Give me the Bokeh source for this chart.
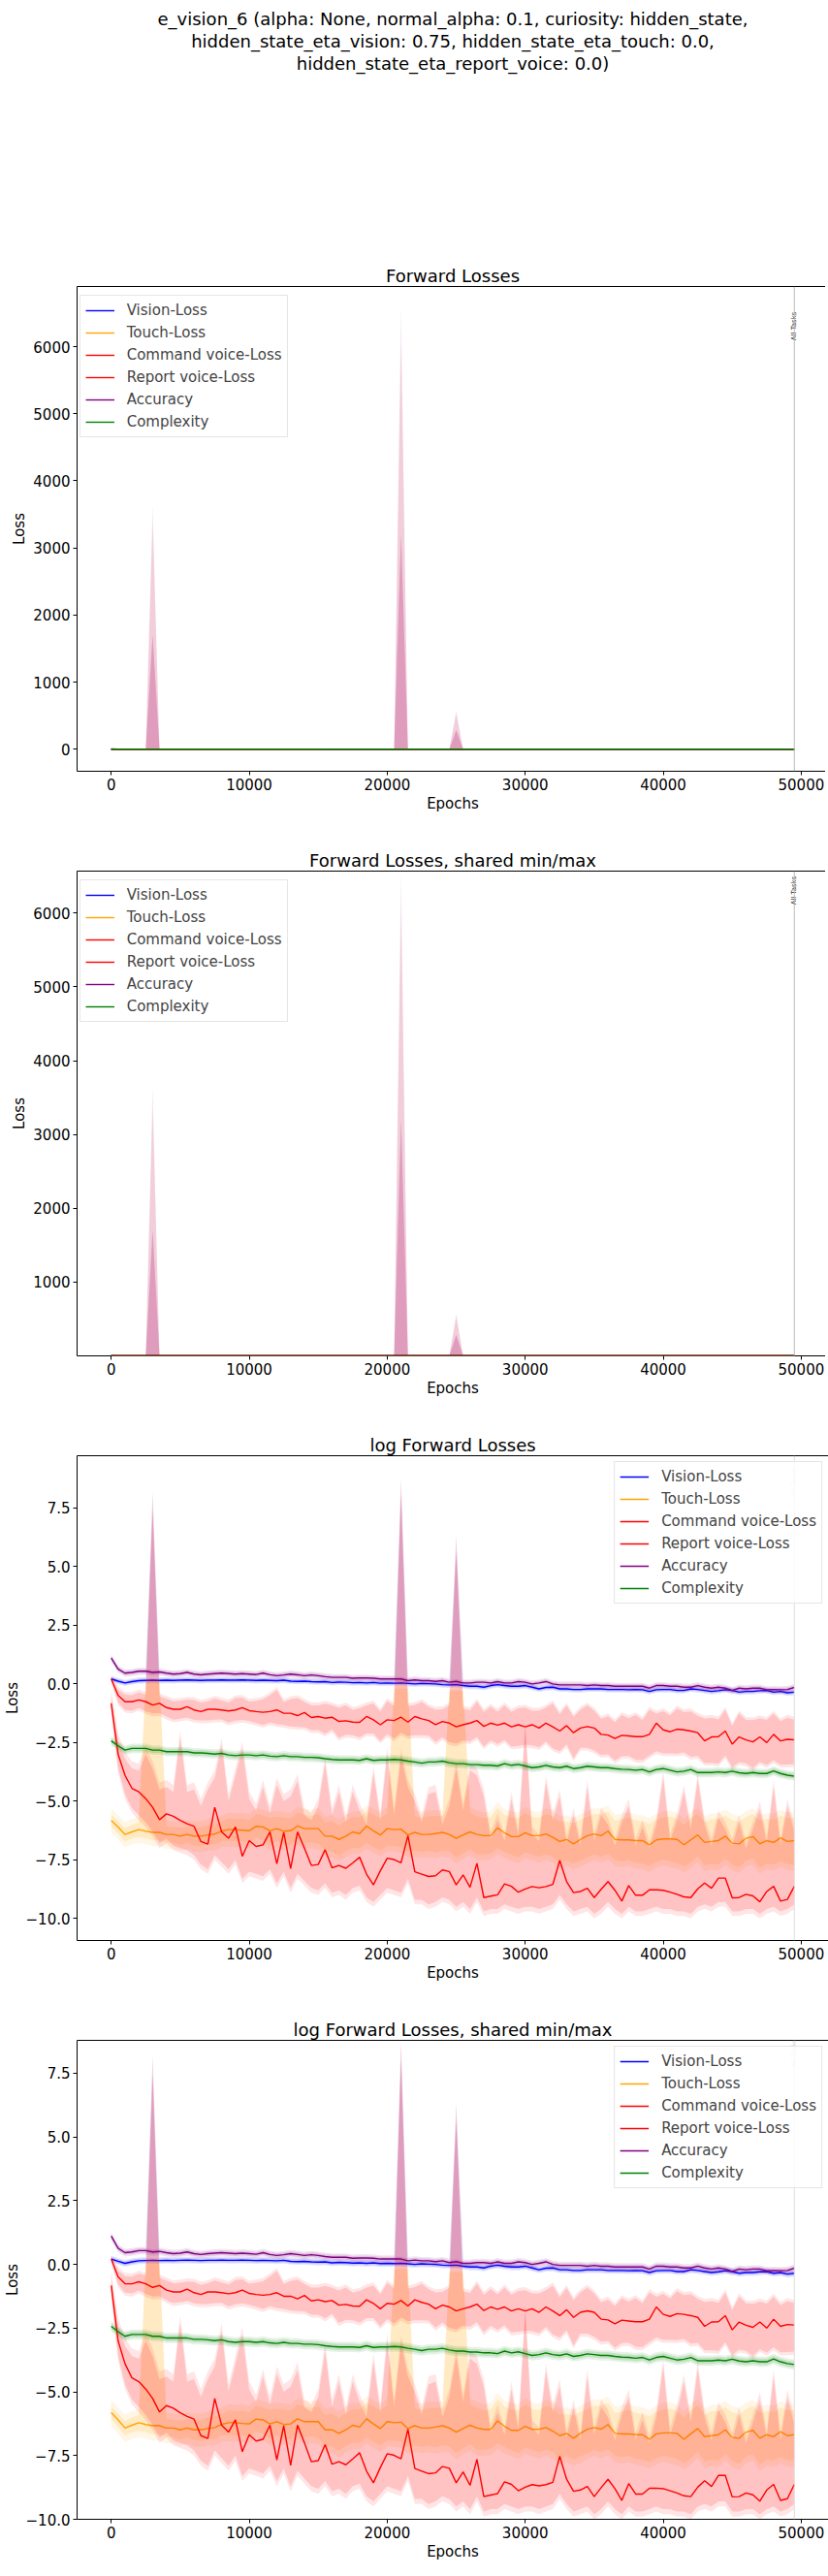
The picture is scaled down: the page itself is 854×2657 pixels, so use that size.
import numpy as np
from bokeh.plotting import figure
from bokeh.models import (Range1d, Span, Legend, LegendItem, Title,
                          SingleIntervalTicker, CustomJSTickFormatter)
from bokeh.layouts import column
from bokeh.embed import file_html
from bokeh.resources import INLINE
from bokeh.core.properties import value

FONT = "DejaVu Sans"

# ---------------- data (natural-log values) ----------------
epochs = list(range(0, 50000, 500))

vision_mean = [0.21, 0.12, 0.04, 0.10, 0.14, 0.15, 0.16, 0.15, 0.16, 0.15,
               0.16, 0.17, 0.16, 0.15, 0.16, 0.16, 0.17, 0.16, 0.16, 0.17,
               0.16, 0.15, 0.16, 0.15, 0.14, 0.16, 0.12, 0.11, 0.12, 0.10,
               0.09, 0.10, 0.06, 0.08, 0.07, 0.05, 0.06, 0.04, 0.06, 0.03,
               0.04, 0.03, 0.04, 0.02, 0.00, 0.02, 0.01, 0.00, -0.03, -0.04,
               -0.03, -0.07, -0.10, -0.10, -0.14, -0.07, -0.03, -0.07, -0.10, -0.10,
               -0.07, -0.14, -0.21, -0.15, -0.14, -0.21, -0.21, -0.24, -0.24, -0.21,
               -0.21, -0.21, -0.24, -0.24, -0.24, -0.25, -0.24, -0.25, -0.32, -0.25,
               -0.24, -0.24, -0.28, -0.28, -0.21, -0.24, -0.28, -0.32, -0.29, -0.25,
               -0.28, -0.35, -0.32, -0.32, -0.29, -0.28, -0.35, -0.32, -0.38, -0.35]

touch_mean = [-5.82, -6.10, -6.42, -6.31, -6.21, -6.28, -6.33, -6.33, -6.42, -6.42,
              -6.49, -6.42, -6.49, -6.49, -6.44, -6.40, -6.28, -6.21, -6.21, -6.24,
              -6.26, -6.07, -6.10, -6.26, -6.17, -6.28, -6.26, -6.06, -6.17, -6.17,
              -6.17, -6.49, -6.49, -6.63, -6.49, -6.31, -6.38, -6.06, -6.26, -6.44,
              -6.17, -6.21, -6.19, -6.44, -6.33, -6.42, -6.42, -6.38, -6.33, -6.42,
              -6.58, -6.44, -6.31, -6.42, -6.47, -6.47, -6.14, -6.35, -6.51, -6.51,
              -6.35, -6.47, -6.47, -6.40, -6.54, -6.72, -6.63, -6.82, -6.63, -6.47,
              -6.40, -6.47, -6.28, -6.63, -6.65, -6.65, -6.68, -6.68, -6.86, -6.65,
              -6.61, -6.61, -6.63, -6.86, -6.65, -6.44, -6.76, -6.72, -6.68, -6.49,
              -6.79, -6.82, -6.58, -6.51, -6.82, -6.68, -6.76, -6.56, -6.72, -6.68]

command_mean = [0.21, -0.49, -0.76, -0.76, -0.68, -0.76, -0.90, -0.83, -1.01, -1.08,
                -1.08, -0.97, -1.11, -1.18, -1.08, -1.08, -1.11, -1.15, -1.11, -1.01,
                -1.14, -1.18, -1.21, -1.18, -1.11, -1.25, -1.25, -1.35, -1.22, -1.43,
                -1.39, -1.46, -1.42, -1.60, -1.57, -1.63, -1.64, -1.39, -1.53, -1.74,
                -1.53, -1.56, -1.42, -1.63, -1.39, -1.49, -1.56, -1.74, -1.60, -1.67,
                -1.83, -1.74, -1.67, -1.56, -1.81, -1.67, -1.76, -1.67, -1.83, -1.74,
                -1.83, -1.74, -1.88, -1.67, -1.83, -2.01, -1.78, -2.08, -1.88, -1.82,
                -1.88, -2.15, -2.18, -2.33, -2.19, -2.22, -2.25, -2.25, -2.15, -1.67,
                -1.96, -2.04, -1.93, -1.96, -2.01, -2.08, -2.43, -2.26, -2.25, -2.01,
                -2.57, -2.26, -2.39, -2.47, -2.26, -2.50, -2.15, -2.43, -2.36, -2.38]

report_mean = [-0.83, -3.00, -3.90, -4.45, -4.60, -4.89, -5.26, -5.79, -5.54, -5.64,
               -5.82, -5.96, -6.07, -6.72, -6.83, -5.26, -6.31, -6.58, -6.10, -7.35,
               -6.68, -6.93, -6.86, -6.31, -7.67, -6.33, -7.88, -6.31, -7.00, -7.74,
               -7.70, -7.07, -7.84, -7.74, -7.86, -7.63, -7.39, -8.11, -8.57, -7.97,
               -7.43, -7.49, -7.63, -6.47, -8.01, -8.11, -8.21, -8.18, -7.93, -8.00,
               -8.57, -8.14, -8.67, -7.65, -9.11, -9.05, -8.99, -8.53, -8.63, -8.88,
               -8.74, -8.64, -8.69, -8.64, -8.55, -7.53, -8.43, -8.90, -8.85, -8.71,
               -9.11, -8.76, -8.43, -8.80, -9.26, -8.60, -9.01, -9.01, -8.78, -8.78,
               -8.80, -8.88, -8.97, -9.08, -9.11, -8.74, -8.49, -8.71, -8.28, -8.28,
               -9.12, -9.11, -8.97, -9.04, -9.29, -8.85, -8.63, -9.26, -9.19, -8.63]

accuracy_mean = [1.11, 0.63, 0.46, 0.49, 0.54, 0.54, 0.49, 0.51, 0.46, 0.42,
                 0.44, 0.49, 0.42, 0.39, 0.42, 0.44, 0.46, 0.44, 0.42, 0.44,
                 0.42, 0.40, 0.46, 0.39, 0.35, 0.38, 0.42, 0.39, 0.35, 0.38,
                 0.35, 0.31, 0.28, 0.28, 0.28, 0.24, 0.25, 0.25, 0.24, 0.21,
                 0.21, 0.21, 0.21, 0.14, 0.17, 0.14, 0.14, 0.11, 0.14, 0.07,
                 0.11, 0.04, 0.04, 0.07, 0.07, 0.04, 0.10, 0.04, 0.04, 0.10,
                 0.07, 0.00, 0.04, 0.10, 0.00, -0.04, -0.04, -0.04, -0.04, -0.07,
                 -0.04, -0.07, -0.07, -0.10, -0.10, -0.10, -0.10, -0.10, -0.18, -0.07,
                 -0.07, -0.10, -0.10, -0.14, -0.14, -0.07, -0.14, -0.18, -0.14, -0.18,
                 -0.28, -0.18, -0.21, -0.18, -0.18, -0.25, -0.24, -0.25, -0.24, -0.15]

complexity_mean = [-2.43, -2.64, -2.82, -2.75, -2.75, -2.75, -2.82, -2.82, -2.89, -2.89,
                   -2.89, -2.89, -2.94, -2.94, -2.96, -2.99, -2.96, -3.03, -3.06, -3.03,
                   -3.03, -3.06, -3.03, -3.08, -3.10, -3.06, -3.10, -3.10, -3.13, -3.13,
                   -3.15, -3.19, -3.22, -3.24, -3.24, -3.24, -3.26, -3.19, -3.26, -3.24,
                   -3.24, -3.22, -3.24, -3.29, -3.33, -3.38, -3.33, -3.33, -3.29, -3.36,
                   -3.40, -3.40, -3.44, -3.44, -3.47, -3.47, -3.50, -3.40, -3.47, -3.43,
                   -3.50, -3.57, -3.54, -3.47, -3.54, -3.57, -3.51, -3.61, -3.57, -3.51,
                   -3.54, -3.57, -3.57, -3.61, -3.64, -3.65, -3.68, -3.65, -3.75, -3.65,
                   -3.61, -3.68, -3.75, -3.72, -3.65, -3.78, -3.78, -3.78, -3.75, -3.78,
                   -3.72, -3.79, -3.82, -3.78, -3.82, -3.82, -3.71, -3.82, -3.89, -3.93]

# std-band widths above / below the mean
command_up = [0.05, 0.25, 0.30, 0.28, 0.32, 0.30, 0.35, 0.30, 0.38, 0.33,
              0.36, 0.30, 0.42, 0.38, 0.34, 0.45, 0.40, 0.36, 0.50, 0.42,
              0.38, 0.46, 0.55, 0.70, 0.85, 0.48, 0.60, 0.75, 0.45, 0.52,
              0.48, 0.62, 0.50, 0.58, 0.66, 0.52, 0.60, 0.48, 0.70, 0.56,
              0.80, 0.62, 0.55, 0.68, 0.50, 0.72, 0.58, 0.64, 0.52, 0.75,
              0.60, 0.68, 0.55, 0.80, 0.62, 0.70, 0.58, 0.76, 0.64, 0.70,
              0.82, 0.60, 0.74, 0.66, 1.00, 0.72, 0.85, 0.68, 0.78, 0.90,
              0.74, 0.66, 0.80, 0.70, 0.86, 0.76, 0.92, 0.72, 1.05, 0.40,
              0.80, 0.70, 0.88, 0.76, 0.84, 0.72, 0.95, 0.82, 0.74, 0.90,
              0.78, 1.00, 0.86, 0.92, 0.80, 0.96, 0.88, 0.84, 0.92, 0.86]
command_dn = [0.05, 0.30, 0.35, 0.38, 0.34, 0.40, 0.36, 0.42, 0.38, 0.44,
              0.40, 0.46, 0.42, 0.38, 0.48, 0.44, 0.40, 0.50, 0.46, 0.52,
              0.44, 0.48, 0.54, 0.46, 0.60, 0.50, 0.56, 0.48, 0.62, 0.54,
              0.58, 0.66, 0.52, 0.70, 0.60, 0.56, 0.64, 0.72, 0.58, 0.68,
              0.62, 0.76, 0.66, 0.60, 0.80, 0.70, 0.64, 0.74, 0.68, 0.82,
              0.72, 0.66, 0.78, 0.70, 0.86, 0.74, 0.80, 0.72, 0.84, 0.90,
              0.76, 0.88, 0.82, 0.78, 0.92, 0.86, 0.80, 1.10, 0.84, 0.90,
              0.96, 0.88, 0.82, 0.94, 0.90, 0.86, 0.98, 1.00, 0.90, 1.20,
              1.00, 0.92, 1.04, 0.96, 1.10, 1.00, 0.94, 1.10, 1.15, 1.04,
              0.98, 1.08, 1.00, 1.12, 1.06, 0.96, 1.10, 1.02, 1.08, 1.04]
touch_up = [0.25, 0.25, 0.28, 0.30, 0.30, 0.30, 0.30, 0.30, 0.35, 0.32,
            0.36, 0.34, 0.40, 0.38, 0.42, 0.45, 0.40, 0.48, 0.44, 0.50,
            0.46, 0.52, 0.48, 0.55, 0.50, 0.58, 0.52, 0.56, 0.60, 0.54,
            0.62, 0.58, 0.65, 0.60, 0.66, 0.62, 0.70, 0.64, 0.68, 0.72,
            0.66, 0.74, 0.70, 0.76, 0.68, 0.72, 0.78, 0.74, 0.70, 0.80,
            0.76, 0.72, 0.82, 0.78, 0.74, 0.80, 0.85, 0.76, 0.82, 0.78,
            0.86, 0.80, 0.76, 0.84, 0.90, 0.82, 0.78, 0.88, 0.84, 0.80,
            0.86, 0.92, 0.84, 0.80, 0.88, 0.94, 0.86, 0.82, 0.90, 0.86,
            0.92, 0.96, 0.88, 0.84, 0.94, 0.90, 0.86, 0.96, 0.92, 0.88,
            0.98, 0.94, 0.90, 0.96, 1.00, 0.92, 0.96, 0.94, 1.00, 0.96]
touch_dn = [0.25, 0.28, 0.30, 0.28, 0.32, 0.30, 0.34, 0.32, 0.36, 0.34,
            0.38, 0.36, 0.40, 0.44, 0.40, 0.46, 0.42, 0.48, 0.50, 0.46,
            0.52, 0.48, 0.54, 0.58, 0.52, 0.56, 0.60, 0.55, 0.62, 0.58,
            0.64, 0.60, 0.66, 0.70, 0.64, 0.68, 0.62, 0.72, 0.70, 0.66,
            0.74, 0.70, 0.76, 0.72, 0.78, 0.74, 0.70, 0.80, 0.76, 0.72,
            0.82, 0.78, 0.74, 0.84, 0.80, 0.76, 0.86, 0.82, 0.78, 0.88,
            0.84, 0.80, 0.90, 0.86, 0.82, 0.92, 0.88, 0.84, 0.90, 0.94,
            0.86, 0.90, 0.96, 0.88, 0.92, 0.86, 0.94, 0.98, 0.90, 0.94,
            0.88, 0.96, 1.00, 0.92, 0.96, 0.90, 0.98, 0.94, 1.02, 0.96,
            0.92, 1.00, 0.96, 0.94, 1.02, 0.98, 0.94, 1.00, 0.96, 1.02]
# report voice std band edges (absolute)
report_hi = [-0.55, -2.4, -3.2, -3.6, -3.7, -3.0, -3.6, -4.5, -4.4, -4.6,
             -2.3, -4.6, -4.5, -5.2, -4.5, -4.0, -2.6, -5.0, -3.9, -2.75,
             -4.9, -5.4, -4.4, -5.5, -4.3, -5.0, -4.8, -4.15, -5.6, -5.8,
             -5.2, -3.4, -5.6, -4.6, -5.9, -4.6, -5.4, -6.0, -3.8, -5.8,
             -3.0, -5.6, -3.1, -4.4, -5.0, -5.9, -4.7, -4.6, -6.0, -5.2,
             -3.6, -5.4, -3.7, -3.9, -4.8, -6.6, -5.8, -6.7, -4.9, -6.5,
             -1.9, -6.4, -6.7, -4.2, -5.8, -4.8, -6.8, -5.6, -6.9, -4.4,
             -6.7, -5.6, -6.0, -6.9, -5.9, -5.2, -6.9, -6.1, -7.0, -6.0,
             -4.0, -6.7, -5.8, -4.6, -6.2, -4.1, -6.0, -6.9, -5.7, -6.2,
             -6.9, -5.9, -7.0, -6.2, -5.3, -6.8, -4.4, -6.9, -5.2, -6.3]
report_lo = [-1.1, -3.6, -4.7, -5.3, -5.6, -5.9, -6.3, -6.8, -6.6, -6.9,
             -7.0, -7.1, -7.3, -7.7, -7.9, -7.3, -7.6, -7.9, -7.5, -8.3,
             -8.0, -8.1, -8.2, -7.9, -8.5, -8.0, -8.7, -8.1, -8.4, -8.7,
             -8.8, -8.5, -8.9, -8.8, -9.0, -8.7, -8.6, -9.1, -9.3, -9.0,
             -8.7, -8.8, -8.9, -8.3, -9.2, -9.2, -9.4, -9.3, -9.1, -9.2,
             -9.5, -9.3, -9.6, -9.1, -9.7, -9.6, -9.6, -9.4, -9.5, -9.6,
             -9.5, -9.5, -9.6, -9.5, -9.4, -9.0, -9.4, -9.7, -9.6, -9.5,
             -9.8, -9.6, -9.3, -9.6, -9.8, -9.5, -9.7, -9.7, -9.6, -9.5,
             -9.6, -9.6, -9.7, -9.7, -9.8, -9.5, -9.4, -9.5, -9.3, -9.3,
             -9.7, -9.7, -9.6, -9.6, -9.8, -9.6, -9.5, -9.7, -9.6, -9.4]

vision_sd = 0.08
accuracy_sd = 0.09
complexity_sd = 0.12

# outlier epochs (index into epochs) where the run max / std explode
spike_idx = [6, 42, 50]
spike_outer = [8.20, 8.79, 6.35]
spike_inner = [7.44, 8.07, 5.65]
touch_col_idx = [5, 6, 7, 41, 42, 43, 49, 50, 51]
touch_col_top = [0.20, 0.20, 0.20, -0.10, -0.10, -0.10, -0.20, -0.20, -0.20]

names = ["Vision-Loss", "Touch-Loss", "Command voice-Loss", "Report voice-Loss",
         "Accuracy", "Complexity"]
colors = ["blue", "orange", "red", "red", "purple", "green"]

sup_lines = ["e_vision_6 (alpha: None, normal_alpha: 0.1, curiosity: hidden_state,",
             "hidden_state_eta_vision: 0.75, hidden_state_eta_touch: 0.0,",
             "hidden_state_eta_report_voice: 0.0)"]

# ---------------- build bands ----------------
def mk(mean, up, dn, rim_up, rim_dn):
    m = np.array(mean, float)
    hi = m + np.asarray(up, float)
    lo = m - np.asarray(dn, float)
    return {"m": m, "lo": lo, "hi": hi, "mlo": lo - rim_dn, "mhi": hi + rim_up}

S = [
    mk(vision_mean, vision_sd, vision_sd, 0.05, 0.05),
    mk(touch_mean, touch_up, touch_dn, 0.25, 0.25),
    mk(command_mean, command_up, command_dn, 0.12, 0.12),
    mk(report_mean, np.array(report_hi) - np.array(report_mean),
       np.array(report_mean) - np.array(report_lo), 0.30, 0.20),
    mk(accuracy_mean, accuracy_sd, accuracy_sd, 0.06, 0.06),
    mk(complexity_mean, complexity_sd, complexity_sd, 0.08, 0.08),
]
for i, o, n in zip(spike_idx, spike_outer, spike_inner):
    S[4]["mhi"][i] = o
    S[2]["mhi"][i] = o - 0.08
    S[2]["hi"][i] = n
    S[0]["mhi"][i] = n
for i, t in zip(touch_col_idx, touch_col_top):
    S[1]["mhi"][i] = t
    S[1]["hi"][i] = t - 0.1

all_lo = min(float(s["mlo"].min()) for s in S)
all_hi = max(float(s["mhi"].max()) for s in S)

x = np.array(epochs, float)
xpad = 0.05 * (x[-1] - x[0])


def title_obj(text, standoff, size="18px", offset=0):
    return Title(text=text, align="center", standoff=standoff, offset=offset,
                 text_font=FONT, text_font_size=size, text_font_style="normal",
                 text_color="black")


def make_fig(title, log, shared, frame_h, top_b, bottom_b, legend_loc, legend_margin,
             tasks_y, tasks_color, tasks_alpha, vline_color):
    f = (lambda a: a) if log else np.exp
    lo = all_lo if log else float(np.exp(all_lo))
    hi = all_hi if log else float(np.exp(all_hi))
    if not shared:
        pad = 0.05 * (hi - lo)
        lo, hi = lo - pad, hi + pad
    p = figure(frame_width=775, frame_height=frame_h,
               x_range=Range1d(x[0] - xpad, x[-1] + xpad), y_range=Range1d(lo, hi),
               output_backend="svg", toolbar_location=None, title=None,
               min_border_left=66, min_border_right=5,
               min_border_top=top_b, min_border_bottom=bottom_b)
    p.add_layout(title_obj(title, 2), "above")
    p.grid.visible = False
    p.outline_line_color = "black"
    p.outline_line_width = 1
    p.background_fill_color = "white"
    p.border_fill_color = "white"

    items = []
    for s, name, col in zip(S, names, colors):
        p.varea(x=x, y1=f(s["mlo"]), y2=f(s["mhi"]), fill_color=col, fill_alpha=0.1)
        p.varea(x=x, y1=f(s["lo"]), y2=f(s["hi"]), fill_color=col, fill_alpha=0.15)
        r = p.line(x=x, y=f(s["m"]), line_color=col, line_width=1.4)
        items.append(LegendItem(label=name, renderers=[r]))

    p.add_layout(Span(location=epochs[-1], dimension="height",
                      line_color=vline_color, line_width=1))
    p.text(x=[epochs[-1]], y=[tasks_y], text=["All Tasks"], angle=np.pi / 2,
           text_font=value(FONT), text_font_size="7px", text_align="center",
           text_baseline="middle", text_color=tasks_color, text_alpha=tasks_alpha)

    p.xaxis.ticker = SingleIntervalTicker(interval=10000, num_minor_ticks=0)
    if log:
        p.yaxis.ticker = SingleIntervalTicker(interval=2.5, num_minor_ticks=0)
        p.yaxis.formatter = CustomJSTickFormatter(
            code="return tick.toFixed(1).replace('-', '\\u2212');")
    else:
        p.yaxis.ticker = SingleIntervalTicker(interval=1000, num_minor_ticks=0)
    p.xaxis.axis_label = "Epochs"
    p.yaxis.axis_label = "Loss"
    for ax in (p.xaxis[0], p.yaxis[0]):
        ax.axis_line_color = None
        ax.major_tick_out = 4
        ax.major_tick_in = 0
        ax.major_tick_line_color = "black"
        ax.minor_tick_line_color = None
        ax.major_label_standoff = 3
        ax.axis_label_standoff = 2
        ax.major_label_text_font = FONT
        ax.major_label_text_font_size = "15px"
        ax.major_label_text_color = "black"
        ax.axis_label_text_font = FONT
        ax.axis_label_text_font_size = "15px"
        ax.axis_label_text_font_style = "normal"
        ax.axis_label_text_color = "black"

    leg = Legend(items=items, location=legend_loc, margin=legend_margin,
                 padding=5, spacing=3, glyph_width=30, glyph_height=20,
                 label_height=20, label_standoff=13,
                 label_text_font=FONT, label_text_font_size="15px",
                 border_line_color="#cccccc", border_line_width=1,
                 background_fill_color="white", background_fill_alpha=0.8)
    p.add_layout(leg)
    return p


p1 = make_fig("Forward Losses", False, False, 500, 295, 58, "top_left", 9,
              6305, "black", 0.9, "#bbbbbb")
p2 = make_fig("Forward Losses, shared min/max", False, True, 500, 45, 58, "top_left", 9,
              6305, "black", 0.9, "#bbbbbb")
p3 = make_fig("log Forward Losses", True, False, 500, 45, 58, "top_right", 6,
              8.57, "#999999", 0.35, "#dddddd")
p4 = make_fig("log Forward Losses, shared min/max", True, True, 494, 45, 43, "top_right", 6,
              8.3, "#999999", 0.35, "#dddddd")

# figure-wide title: an empty spacer, then the three lines (outermost added last)
p1.add_layout(title_obj(" ", 174, size="16px"), "above")
p1.add_layout(title_obj(sup_lines[2], 0, size="18px"), "above")
p1.add_layout(title_obj(sup_lines[1], 0, size="18px"), "above")
p1.add_layout(title_obj(sup_lines[0], 0, size="18px"), "above")

layout = column(p1, p2, p3, p4)
open("out.html", "w").write(file_html(layout, INLINE, title="e_vision_6"))
